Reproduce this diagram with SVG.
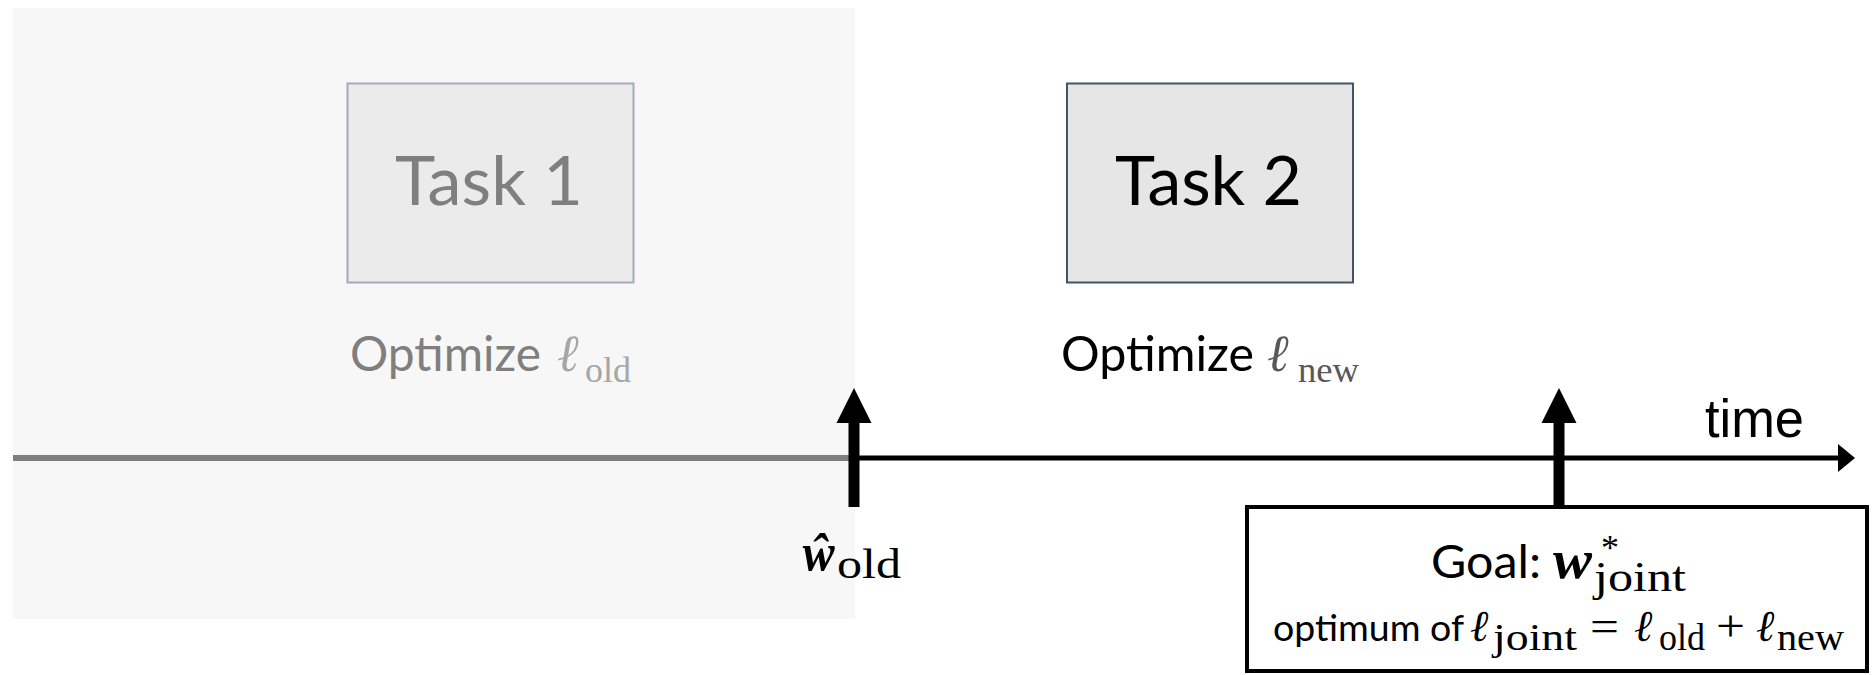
<svg xmlns="http://www.w3.org/2000/svg" width="1873" height="675" viewBox="0 0 1873 675">
<style>
.sans{font-family:Lato,"Open Sans","Liberation Sans",sans-serif}
.serif{font-family:"Liberation Serif","DejaVu Serif",serif}
.it{font-style:italic}
.task{font-size:68px}
.opt{font-size:48px}
</style>
<defs>
<marker id="upHead" viewBox="0 -20 40 40" refX="0" refY="0" markerUnits="userSpaceOnUse" markerWidth="40" markerHeight="40" orient="auto">
<path d="M0,-17.5 L35,0 L0,17.5 z" fill="#000"/>
</marker>
<marker id="timeHead" viewBox="0 -16 20 32" refX="0" refY="0" markerUnits="userSpaceOnUse" markerWidth="20" markerHeight="32" orient="auto">
<path d="M0,-14 L17,0 L0,14 z" fill="#000"/>
</marker>
</defs>
<rect width="1873" height="675" fill="#ffffff"/>
<g id="past-region">
<rect x="13" y="8" width="842" height="611" fill="#f7f7f7"/>
</g>
<g id="task1">
<rect x="347.5" y="83.5" width="286" height="199" fill="#ebebeb" stroke="#a3abb8" stroke-width="2"/>
<text class="sans task" x="395" y="205" textLength="188" lengthAdjust="spacingAndGlyphs" fill="#7f7f7f">Task 1</text>
<text class="sans opt" x="350" y="371" textLength="191" lengthAdjust="spacingAndGlyphs" fill="#7f7f7f">Optimize</text>
<text class="serif it" x="557" y="371" font-size="52" fill="#a6a6a6">ℓ</text>
<text class="serif" x="585" y="382" font-size="36" textLength="46" lengthAdjust="spacingAndGlyphs" fill="#a6a6a6">old</text>
</g>
<g id="task2">
<rect x="1067" y="83.5" width="286" height="199" fill="#e6e6e6" stroke="#44546a" stroke-width="2"/>
<text class="sans task" x="1115" y="205" textLength="187" lengthAdjust="spacingAndGlyphs" fill="#000">Task 2</text>
<text class="sans opt" x="1061" y="371" textLength="193" lengthAdjust="spacingAndGlyphs" fill="#000">Optimize</text>
<text class="serif it" x="1267" y="371" font-size="52" fill="#595959">ℓ</text>
<text class="serif" x="1298" y="382" font-size="36" textLength="61" lengthAdjust="spacingAndGlyphs" fill="#595959">new</text>
</g>
<g id="w-old">
<text class="serif it" x="803" y="570" font-size="52" font-weight="bold" textLength="32" lengthAdjust="spacingAndGlyphs" fill="#000">ŵ</text>
<text class="serif" x="837" y="578" font-size="42" textLength="64" lengthAdjust="spacingAndGlyphs" fill="#000">old</text>
</g>
<g id="time-label">
<text x="1705" y="437" font-family="'Liberation Sans',Arial,sans-serif" font-size="54" textLength="99" lengthAdjust="spacingAndGlyphs" fill="#000">time</text>
</g>
<g id="goal">
<rect x="1247" y="507" width="620" height="164" fill="#fff" stroke="#000" stroke-width="4"/>
<text class="sans" x="1431" y="578" font-size="47" textLength="110" lengthAdjust="spacingAndGlyphs" fill="#000">Goal:</text>
<text class="serif it" x="1553" y="578" font-size="54" font-weight="bold" textLength="39" lengthAdjust="spacingAndGlyphs" fill="#000">w</text>
<text class="serif" x="1601" y="560" font-size="36" fill="#000">*</text>
<text class="serif" x="1594" y="591" font-size="42" textLength="92" lengthAdjust="spacingAndGlyphs" fill="#000">joint</text>
<text class="sans" x="1273" y="641" font-size="36" textLength="191" lengthAdjust="spacingAndGlyphs" fill="#000">optimum of</text>
<text class="serif it" x="1470" y="641" font-size="44" fill="#000">ℓ</text>
<text class="serif" x="1493" y="650" font-size="38" textLength="84" lengthAdjust="spacingAndGlyphs" fill="#000">joint</text>
<text class="serif" x="1590" y="641" font-size="44" textLength="29" lengthAdjust="spacingAndGlyphs" fill="#000">=</text>
<text class="serif it" x="1634" y="641" font-size="44" fill="#000">ℓ</text>
<text class="serif" x="1659" y="650" font-size="38" textLength="46" lengthAdjust="spacingAndGlyphs" fill="#000">old</text>
<text class="serif" x="1716" y="641" font-size="44" textLength="29" lengthAdjust="spacingAndGlyphs" fill="#000">+</text>
<text class="serif it" x="1756" y="641" font-size="44" fill="#000">ℓ</text>
<text class="serif" x="1777" y="650" font-size="38" textLength="67" lengthAdjust="spacingAndGlyphs" fill="#000">new</text>
</g>
<g id="connectors">
<line x1="13" y1="458" x2="854" y2="458" stroke="#7f7f7f" stroke-width="6"/>
<line x1="854" y1="458" x2="1838" y2="458" stroke="#000" stroke-width="5" marker-end="url(#timeHead)"/>
<line x1="854" y1="507" x2="854" y2="423" stroke="#000" stroke-width="11" marker-end="url(#upHead)"/>
<line x1="1559" y1="505" x2="1559" y2="423" stroke="#000" stroke-width="11" marker-end="url(#upHead)"/>
</g>
</svg>
